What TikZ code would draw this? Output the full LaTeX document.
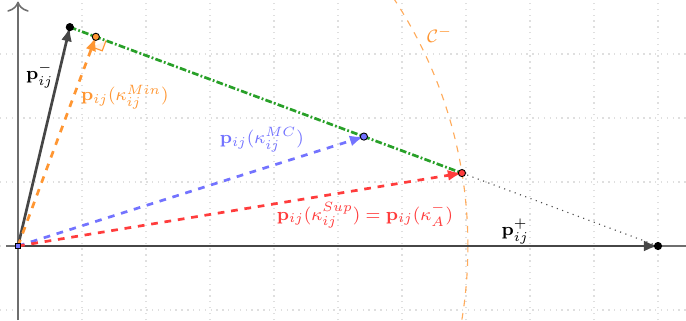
\documentclass[tikz,border=0pt]{standalone}
\usepackage{amsmath,amssymb}
\usepackage{xcolor}
\usepackage{tikz}
\usetikzlibrary{arrows.meta,calc}
\definecolor{cVec}{RGB}{70,70,70}
\definecolor{cOrange}{RGB}{255,150,50}
\definecolor{cBlue}{RGB}{115,115,255}
\definecolor{cRed}{RGB}{255,60,60}
\definecolor{cGreen}{RGB}{40,160,40}
\definecolor{cAxis}{RGB}{110,110,110}

\begin{document}
\begin{tikzpicture}[
  vec/.style={-{Latex[length=2.2mm, width=1.7mm]}, line width=1.2pt},
  pt/.style={circle, draw=black, inner sep=0pt, minimum size=3.2pt},
  lbl/.style={font=\footnotesize},
]
  \useasboundingbox (-0.281,-1.156) rectangle (10.4375,3.844);
  \draw[gray!25, dotted, line width=0.6pt, step=1] (-0.281,-1.156) grid (10.4375,3.844);

  % points
  \coordinate (O) at (0,0);
  \coordinate (Pm) at (0.81,3.42);
  \coordinate (Pp) at (10,0);
  \coordinate (Min) at ($(Pm)!(O)!(Pp)$);
  \coordinate (MC) at ($(Pm)!0.5!(Pp)$);
  \coordinate (Sup) at ($(Pm)!2/3!(Pp)$);

  % axes
  \draw[cAxis, line width=0.7pt] (-0.18,0) -- (10.4375,0);
  \draw[cAxis, line width=0.7pt, -{To[length=1.6mm]}] (0,-1.156) -- (0,3.82);

  % circle C^-
  \begin{scope}
    \clip (-0.281,-1.156) rectangle (10.4375,3.844);
    \draw[cOrange!80, dashed, line width=0.5pt] let \p1=($(Sup)-(O)$), \n1={veclen(\x1,\y1)} in (O) circle (\n1);
  \end{scope}
  \node[text=cOrange, lbl] (Clbl) at (6.59,3.30) {$\mathcal{C}^-$};

  % segment between the extreme vectors
  \draw[black!70, dotted, line width=0.5pt] (Sup) -- (Pp);
  \draw[cGreen, dash pattern=on 3pt off 1pt on 0.8pt off 1pt, line width=1.2pt] (Pm) -- (Sup);

  % right angle
  \coordinate (ra1) at ($(Min)!0.17cm!(Pp)$);
  \coordinate (ra2) at ($(Min)!0.17cm!(O)$);
  \draw[cOrange, fill=cOrange!10, line width=0.5pt] (ra1) -- ($(ra1)+(ra2)-(Min)$) -- (ra2);

  % vectors
  \draw[vec, cVec] (O) -- (Pp);
  \draw[vec, cVec] (O) -- (Pm);
  \draw[vec, cOrange, dashed] (O) -- (Min);
  \draw[vec, cBlue, dashed] (O) -- (MC);
  \draw[vec, cRed, dashed] (O) -- (Sup);

  % dots
  \node[pt, fill=black] (dPm) at (Pm) {};
  \node[pt, fill=black] (dPp) at (Pp) {};
  \node[pt, fill=cOrange] (dMin) at (Min) {};
  \node[pt, fill=cBlue] (dMC) at (MC) {};
  \node[pt, fill=cRed] (dSup) at (Sup) {};
  \node[pt, fill=cBlue, rectangle, minimum size=2.5pt] (dO) at (O) {};

  % labels
  \node[lbl] (lPm) at (0.34,2.67) {$\mathbf{p}_{ij}^-$};
  \node[lbl] (lPp) at (7.77,0.22) {$\mathbf{p}_{ij}^+$};
  \node[lbl, text=cOrange] (lMin) at (1.67,2.33) {$\mathbf{p}_{ij}(\kappa_{ij}^{Min})$};
  \node[lbl, text=cBlue] (lMC) at (3.81,1.66) {$\mathbf{p}_{ij}(\kappa_{ij}^{MC})$};
  \node[lbl, text=cRed] (lSup) at (5.42,0.48) {$\mathbf{p}_{ij}(\kappa_{ij}^{Sup}) = \mathbf{p}_{ij}(\kappa_A^-)$};
\end{tikzpicture}
\end{document}
